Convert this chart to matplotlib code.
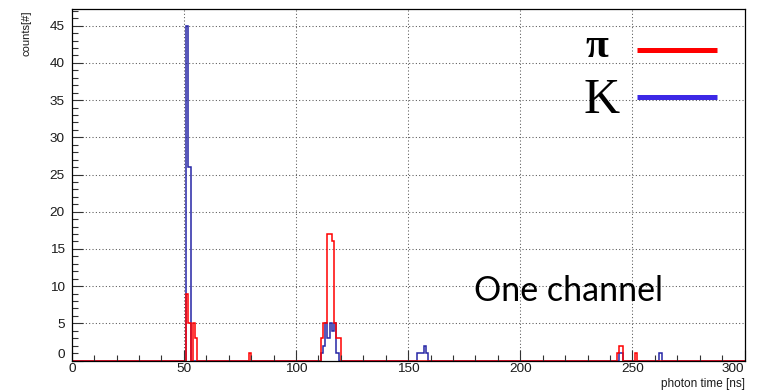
import numpy as np
import matplotlib
matplotlib.use("Agg")
import matplotlib.pyplot as plt
from matplotlib.ticker import MultipleLocator

plt.rcParams["font.family"] = ["Liberation Sans", "DejaVu Sans"]

# ---- data (1 ns bins, value = counts in bin starting at given time) ----
red_t = [51, 52, 53, 54, 55, 79, 111, 112, 113, 114, 115, 116, 117, 118, 119, 243, 244, 245, 251]
red_c = [9, 5, 0, 5, 3, 1, 3, 5, 5, 17, 17, 16, 5, 3, 3, 1, 2, 2, 1]
blue_t = [51, 52, 111, 112, 113, 114, 115, 116, 117, 118, 154, 155, 156, 157, 158, 244, 245, 262]
blue_c = [45, 26, 1, 2, 5, 3, 5, 4, 5, 1, 1, 1, 1, 2, 1, 1, 1, 1]
x_ticks = [0, 50, 100, 150, 200, 250, 300]
y_ticks = [0, 5, 10, 15, 20, 25, 30, 35, 40, 45]
legend_labels = ["\u03c0", "K"]
note_text = "One channel"
x_title = "photon time [ns]"
y_title = "counts[#]"

edges = np.arange(0, 301, 1)
red_h = np.zeros(300)
blue_h = np.zeros(300)
red_h[np.array(red_t)] = red_c
blue_h[np.array(blue_t)] = blue_c

W, H = 765, 392
fig = plt.figure(figsize=(W / 100, H / 100), dpi=100)
x0, x1 = 71.8, 744.5
ytop, ybot = 9.0, 360.5
ax = fig.add_axes([x0 / W, 1 - ybot / H, (x1 - x0) / W, (ybot - ytop) / H])

ax.stairs(blue_h, edges, baseline=0, fill=False, color="#2626a6", lw=1.1)
ax.stairs(red_h, edges, baseline=0, fill=False, color="#ff0000", lw=1.1)

ax.set_xlim(0, 300)
ax.set_ylim(0, 47.25)
ax.set_xticks(x_ticks)
ax.set_yticks(y_ticks)
ax.xaxis.set_minor_locator(MultipleLocator(10))
ax.yaxis.set_minor_locator(MultipleLocator(1))
ax.tick_params(which="both", direction="in", top=False, right=False,
               colors="#333333", labelcolor="#1a1a1a", labelsize=9.7)
ax.tick_params(which="major", length=8, width=0.8)
ax.tick_params(which="minor", length=4, width=0.8)
ax.tick_params(axis="x", pad=2)
ax.tick_params(axis="y", pad=5)
for sp in ax.spines.values():
    sp.set_color("black")
    sp.set_linewidth(0.9)

# grid
for v in x_ticks[1:-1]:
    ax.axvline(v, color="#555555", lw=0.75, ls=(0, (1, 2.2)), zorder=0)
for v in y_ticks[1:]:
    ax.axhline(v, color="#555555", lw=0.75, ls=(0, (1, 2.2)), zorder=0)

# ROOT-like label placement tweaks
ax.get_yticklabels()[0].set_va("bottom")
ax.get_xticklabels()[-1].set_ha("right")

# axis titles
fig.text(27 / W, 1 - 10 / H, y_title, rotation=90, ha="center", va="top",
         fontsize=8, color="#1a1a1a")
fig.text(745 / W, 2 / H, x_title, ha="right", va="bottom",
         fontsize=8.5, color="#1a1a1a")

# legend
fig.text(597 / W, 1 - 47 / H, legend_labels[0], ha="center", va="center",
         fontsize=30, family="Liberation Serif", weight="bold", color="black")
fig.text(602 / W, 1 - 101 / H, legend_labels[1], ha="center", va="center",
         fontsize=36, family="Liberation Serif", color="black")
fig.add_artist(plt.Line2D([637 / W, 717 / W], [1 - 50 / H, 1 - 50 / H],
                          color="#ff0000", lw=3.6, solid_capstyle="butt"))
fig.add_artist(plt.Line2D([637 / W, 717 / W], [1 - 96.5 / H, 1 - 96.5 / H],
                          color="#3c28e6", lw=3.6, solid_capstyle="butt"))

fig.text(474 / W, 1 - 291 / H, note_text, ha="left", va="center",
         fontsize=24.5, family="Lato", color="black")

fig.savefig("out.png", dpi=100)
